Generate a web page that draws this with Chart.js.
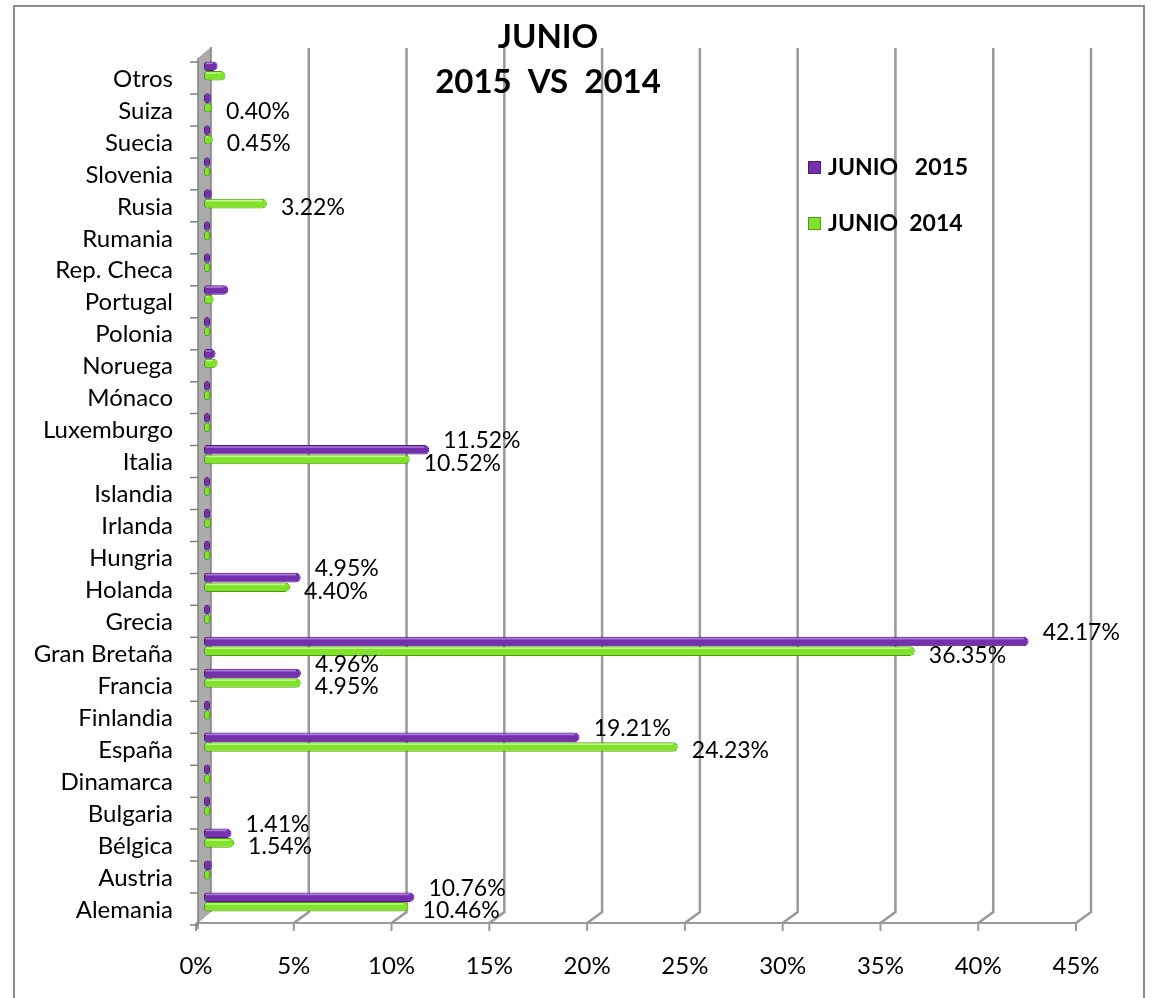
<!DOCTYPE html>
<html>
<head>
<meta charset="utf-8">
<script src="https://cdn.jsdelivr.net/npm/chart.js@4.4.1/dist/chart.umd.min.js"></script>
<style>
  html, body { margin: 0; padding: 0; background: #fff; }
  #chart { display: block; }
</style>
</head>
<body>
<canvas id="chart" width="1152" height="998"></canvas>
<script>
// categories, top to bottom
const categories = ['Otros', 'Suiza', 'Suecia', 'Slovenia', 'Rusia', 'Rumania', 'Rep. Checa', 'Portugal',
    'Polonia', 'Noruega', 'Mónaco', 'Luxemburgo', 'Italia', 'Islandia', 'Irlanda', 'Hungria', 'Holanda',
    'Grecia', 'Gran Bretaña', 'Francia', 'Finlandia', 'España', 'Dinamarca', 'Bulgaria', 'Bélgica',
    'Austria', 'Alemania'];

const junio2015 = [0.7, 0.35, 0.2, 0.1, 0.4, 0.1, 0.15, 1.25, 0.3, 0.6, 0.05, 0.1, 11.52, 0.1, 0.2, 0.1, 4.95,
    0.1, 42.17, 4.96, 0.1, 19.21, 0.1, 0.1, 1.41, 0.4, 10.76];
const junio2014 = [1.1, 0.40, 0.45, 0.1, 3.22, 0.1, 0.15, 0.5, 0.3, 0.7, 0.1, 0.1, 10.52, 0.1, 0.35, 0.1, 4.40,
    0.1, 36.35, 4.95, 0.1, 24.23, 0.1, 0.1, 1.54, 0.3, 10.46];

// which bars carry a value label
const labeled2015 = ['Italia', 'Holanda', 'Gran Bretaña', 'Francia', 'España', 'Bélgica', 'Alemania'];
const labeled2014 = ['Suiza', 'Suecia', 'Rusia', 'Italia', 'Holanda', 'Gran Bretaña', 'Francia', 'España', 'Bélgica', 'Alemania'];

const seriesNames = ['JUNIO   2015', 'JUNIO  2014'];
const titleLines = ['JUNIO', '2015  VS  2014'];
const xMax = 45;
const xStep = 5;

const FONT = 'Lato, "Open Sans", sans-serif';
Chart.defaults.font.family = FONT;
Chart.defaults.color = '#000';

const purple = '#7430ad';
const purpleDark = '#4e1a7a';
const green = '#80e22a';
const greenDark = '#4f9a12';

// 3D-ish back wall, gridlines and floor axis
const backdrop = {
    id: 'backdrop',
    beforeDatasetsDraw(chart) {
        const {ctx, chartArea, scales: {x}} = chart;
        const dx = 7, fx = -8, topY = 48, backBottom = 912, frontY = 923;
        ctx.save();
        // gridlines
        ctx.strokeStyle = '#999999';
        ctx.lineWidth = 2.5;
        for (let v = xStep; v <= xMax; v += xStep) {
            const px = x.getPixelForValue(v);
            ctx.beginPath();
            ctx.moveTo(px + dx, topY);
            ctx.lineTo(px + dx, backBottom);
            ctx.lineTo(px + fx, frontY);
            ctx.stroke();
        }
        // front axis line + ticks
        ctx.lineWidth = 2;
        ctx.beginPath();
        ctx.moveTo(x.getPixelForValue(0) + fx, frontY);
        ctx.lineTo(x.getPixelForValue(xMax) + fx, frontY);
        for (let v = 0; v <= xMax; v += xStep) {
            const px = x.getPixelForValue(v) + fx;
            ctx.moveTo(px, frontY);
            ctx.lineTo(px, frontY + 8);
        }
        ctx.stroke();
        // wall
        const x0 = x.getPixelForValue(0);
        ctx.fillStyle = '#ababab';
        ctx.beginPath();
        ctx.moveTo(x0 - 6, 58);
        ctx.lineTo(x0 + 7, 47);
        ctx.lineTo(x0 + 7, backBottom);
        ctx.lineTo(x0 - 6, frontY);
        ctx.closePath();
        ctx.fill();
        ctx.strokeStyle = '#808080';
        ctx.lineWidth = 1.5;
        ctx.beginPath();
        ctx.moveTo(x0 - 6, 58);
        ctx.lineTo(x0 - 6, frontY + 6);
        ctx.moveTo(x0 + 7, 47);
        ctx.lineTo(x0 + 7, backBottom);
        ctx.stroke();
        // category ticks on the wall edge
        const band = (chartArea.bottom - chartArea.top) / categories.length;
        ctx.beginPath();
        for (let i = 0; i <= categories.length; i++) {
            const py = chartArea.top + i * band + 7;
            ctx.moveTo(x0 - 14, py);
            ctx.lineTo(x0 - 6, py);
        }
        ctx.stroke();
        ctx.restore();
    },
    afterDatasetsDraw(chart) {
        const {ctx} = chart;
        ctx.save();
        // highlight along the top of each bar
        chart.data.datasets.forEach((ds, di) => {
            chart.getDatasetMeta(di).data.forEach(bar => {
                const w = bar.x - bar.base;
                if (w < 8) return;
                ctx.strokeStyle = di === 0 ? 'rgba(200,150,240,0.7)' : 'rgba(210,255,160,0.8)';
                ctx.lineWidth = 1.5;
                ctx.beginPath();
                ctx.moveTo(bar.base + 2, bar.y - bar.height / 2 + 2);
                ctx.lineTo(bar.x - 5, bar.y - bar.height / 2 + 2);
                ctx.stroke();
            });
        });
        // value labels
        ctx.font = '23px ' + FONT;
        ctx.fillStyle = '#000';
        ctx.textAlign = 'left';
        ctx.textBaseline = 'middle';
        const lists = [labeled2015, labeled2014];
        chart.data.datasets.forEach((ds, di) => {
            chart.getDatasetMeta(di).data.forEach((bar, i) => {
                if (!lists[di].includes(categories[i])) return;
                const txt = ds.data[i].toFixed(2) + '%';
                const ty = di === 0 ? bar.y - 9 : bar.y + 4;
                ctx.fillText(txt, Math.max(bar.x + 14, 226), ty);
            });
        });
        ctx.restore();
    },
    afterDraw(chart) {
        const {ctx} = chart;
        ctx.save();
        // outer frame
        ctx.strokeStyle = '#8c8c8c';
        ctx.lineWidth = 2;
        ctx.strokeRect(14, 6, 1130, 1010);
        // title
        ctx.fillStyle = '#000';
        ctx.textAlign = 'center';
        ctx.textBaseline = 'middle';
        ctx.font = 'bold 33px ' + FONT;
        ctx.fillText(titleLines[0], 548, 37);
        ctx.fillText(titleLines[1], 548, 82);
        // legend
        const colors = [[purple, purpleDark], [green, greenDark]];
        const ys = [167, 223];
        ctx.textAlign = 'left';
        ctx.font = 'bold 23px ' + FONT;
        seriesNames.forEach((name, i) => {
            ctx.fillStyle = colors[i][0];
            ctx.fillRect(808, ys[i] - 6, 13, 13);
            ctx.strokeStyle = colors[i][1];
            ctx.lineWidth = 1;
            ctx.strokeRect(808.5, ys[i] - 5.5, 12, 12);
            ctx.fillStyle = '#000';
            ctx.fillText(name, 828, ys[i] + 1);
        });
        ctx.restore();
    }
};

new Chart(document.getElementById('chart').getContext('2d'), {
    type: 'bar',
    data: {
        labels: categories,
        datasets: [{
            label: seriesNames[0],
            data: junio2015,
            backgroundColor: purple,
            borderColor: purpleDark,
            borderWidth: 1,
            borderRadius: {topRight: 5, bottomRight: 5, topLeft: 3, bottomLeft: 3},
            borderSkipped: false,
            minBarLength: 6,
            categoryPercentage: 0.6,
            barPercentage: 1
        }, {
            label: seriesNames[1],
            data: junio2014,
            backgroundColor: green,
            borderColor: greenDark,
            borderWidth: 1,
            borderRadius: {topRight: 5, bottomRight: 5, topLeft: 3, bottomLeft: 3},
            borderSkipped: false,
            minBarLength: 6,
            categoryPercentage: 0.6,
            barPercentage: 1
        }]
    },
    options: {
        indexAxis: 'y',
        responsive: false,
        animation: false,
        layout: {
            padding: {left: 0, top: 55, right: 68, bottom: 0}
        },
        scales: {
            x: {
                min: 0,
                max: xMax,
                grid: {display: false},
                border: {display: false},
                afterFit(scale) { scale.height = 80; },
                ticks: {
                    stepSize: xStep,
                    padding: 26,
                    labelOffset: -8,
                    font: {size: 24},
                    callback: v => v + '%'
                }
            },
            y: {
                grid: {display: false},
                border: {display: false},
                afterFit(scale) { scale.width = 204; },
                ticks: {
                    padding: 23,
                    labelOffset: 8,
                    autoSkip: false,
                    font: {size: 24}
                }
            }
        },
        plugins: {
            legend: {display: false},
            tooltip: {enabled: false}
        }
    },
    plugins: [backdrop]
});
</script>
</body>
</html>
